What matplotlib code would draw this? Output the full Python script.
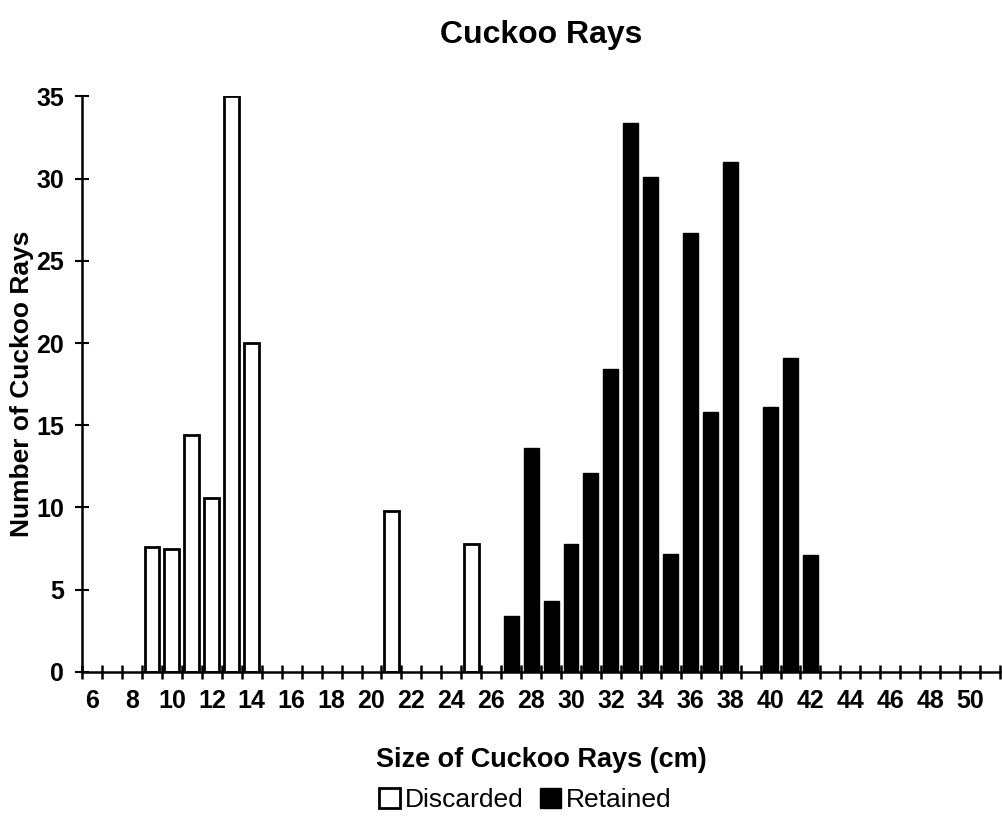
import matplotlib
matplotlib.use("Agg")
import matplotlib.pyplot as plt
from matplotlib.patches import Patch

plt.rcParams['font.family'] = ['Liberation Sans', 'DejaVu Sans']

# Size classes (cm) on the category axis
sizes = list(range(6, 52))

# Discarded fish by size
discarded_sizes = [9, 10, 11, 12, 13, 14, 21, 25]
discarded_counts = [7.6, 7.5, 14.4, 10.6, 35.0, 20.0, 9.8, 7.8]

# Retained fish by size
retained_sizes = [27, 28, 29, 30, 31, 32, 33, 34, 35, 36, 37, 38, 40, 41, 42]
retained_counts = [3.4, 13.6, 4.3, 7.8, 12.1, 18.4, 33.4, 30.1, 7.2, 26.7, 15.8, 31.0, 16.1, 19.1, 7.1]

y_ticks = [0, 5, 10, 15, 20, 25, 30, 35]
x_labels = list(range(6, 51, 2))

fig = plt.figure(figsize=(10.02, 8.16), dpi=100)
ax = fig.add_axes([0.082, 0.1765, 0.916, 0.7055])

bar_w = 0.75
ax.bar(discarded_sizes, discarded_counts, width=bar_w, color="white",
       edgecolor="black", linewidth=2.0)
ax.bar(retained_sizes, retained_counts, width=bar_w, color="black",
       edgecolor="black", linewidth=1.0)

ax.set_xlim(sizes[0] - 0.5, sizes[-1] + 0.5)
ax.set_ylim(0, 35)

for s in ["top", "right"]:
    ax.spines[s].set_visible(False)
for s in ["left", "bottom"]:
    ax.spines[s].set_linewidth(1.8)

# labels every other size, ticks on the category boundaries
ax.set_xticks(x_labels)
ax.set_xticks([s - 0.5 for s in sizes] + [sizes[-1] + 0.5], minor=True)
ax.tick_params(axis="x", which="major", length=0, pad=12,
               labelsize=18)
ax.tick_params(axis="x", which="minor", length=10, width=1.8,
               direction="inout")
for lab in ax.get_xticklabels():
    lab.set_fontweight("bold")

ax.set_yticks(y_ticks)
ax.tick_params(axis="y", length=10, width=1.5, direction="inout",
               labelsize=18, pad=8)
for lab in ax.get_yticklabels():
    lab.set_fontweight("bold")

ax.set_ylabel("Number of Cuckoo Rays", fontsize=19, fontweight="bold")
ax.yaxis.set_label_coords(-0.052, 0.5)

ax.text(0.5, -0.153, "Size of Cuckoo Rays (cm)", transform=ax.transAxes,
        ha="center", va="center", fontsize=19.5, fontweight="bold")
ax.text(0.5, 1.106, "Cuckoo Rays", transform=ax.transAxes,
        ha="center", va="center", fontsize=23, fontweight="bold")

handles = [Patch(facecolor="white", edgecolor="black", linewidth=2.0, label="Discarded"),
           Patch(facecolor="black", edgecolor="black", label="Retained")]
ax.legend(handles=handles, loc="center", bbox_to_anchor=(0.483, -0.222),
          ncol=2, frameon=False, fontsize=19, handlelength=0.8,
          handleheight=0.8, handletextpad=0.2, columnspacing=0.6)

fig.savefig("out.png", dpi=100)
